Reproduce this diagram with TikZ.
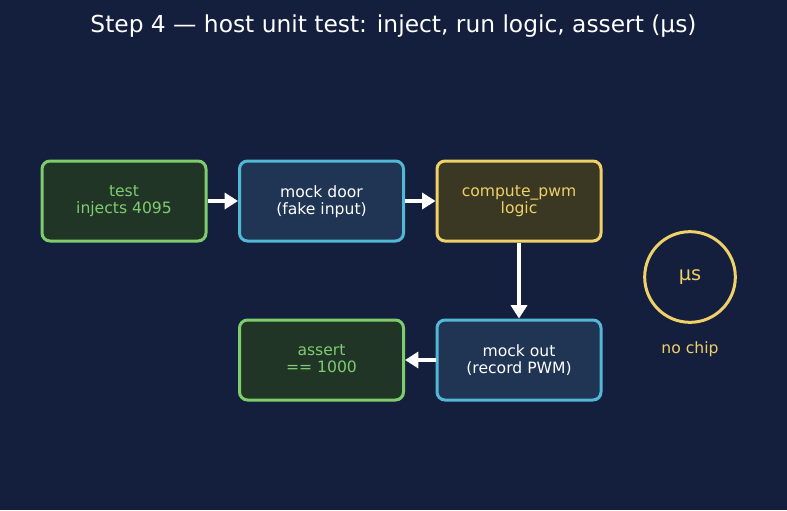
\documentclass[tikz,border=0pt]{standalone}
\usepackage{fontspec}
\setmainfont{DejaVu Sans}
\usetikzlibrary{arrows.meta}

\definecolor{bgnavy}{HTML}{141F3D}
\definecolor{grnline}{HTML}{7ECC6C}
\definecolor{grnfill}{HTML}{203526}
\definecolor{grntext}{HTML}{80CC70}
\definecolor{bluline}{HTML}{52B8D6}
\definecolor{blufill}{HTML}{1F3553}
\definecolor{ylwline}{HTML}{F0D068}
\definecolor{ylwfill}{HTML}{3A3822}
\definecolor{ylwtext}{HTML}{F0D068}

\tikzset{
  stagebox/.style={rounded corners=6pt, line width=2.25pt, minimum width=123pt,
    minimum height=60pt, align=center, font=\fontsize{11.7}{12.8}\selectfont,
    inner sep=0pt, text depth=2pt},
  testbox/.style={stagebox, draw=grnline, fill=grnfill, text=grntext},
  mockbox/.style={stagebox, draw=bluline, fill=blufill, text=white},
  logicbox/.style={stagebox, draw=ylwline, fill=ylwfill, text=ylwtext},
  flow/.style={draw=white, line width=2.4pt, -{Triangle[length=10pt,width=12pt]}},
}

\begin{document}
\begin{tikzpicture}[x=0.75pt,y=-0.75pt]
  \fill[bgnavy] (0,0) rectangle (787,510);
  \useasboundingbox (0,0) rectangle (787,510);

  \node[text=white, font=\fontsize{17.5}{20}\selectfont] (title) at (393.5,26)
    {Step 4 — host unit test: inject, run logic, assert (µs)};

  \node[testbox]  (inject) at (124,201) {test\\injects 4095};
  \node[mockbox]  (door)   at (321.5,201) {mock door\\(fake input)};
  \node[logicbox] (logic)  at (519,201) {compute\_pwm\\logic};
  \node[mockbox]  (out)    at (519,360) {mock out\\(record PWM)};
  \node[testbox]  (check)  at (321.5,360) {assert\\== 1000};

  \draw[flow] (inject) -- (door);
  \draw[flow] (door) -- (logic);
  \draw[flow] (logic) -- (out);
  \draw[flow] (out) -- (check);

  \node[circle, draw=ylwline, line width=2.25pt, minimum size=68pt, inner sep=0pt,
    text=ylwtext, font=\fontsize{14.5}{16}\selectfont] (micro) at (690,277) {µs};
  \node[text=ylwtext, font=\fontsize{11.7}{13}\selectfont] (nochip) at (690,349) {no chip};
\end{tikzpicture}
\end{document}
